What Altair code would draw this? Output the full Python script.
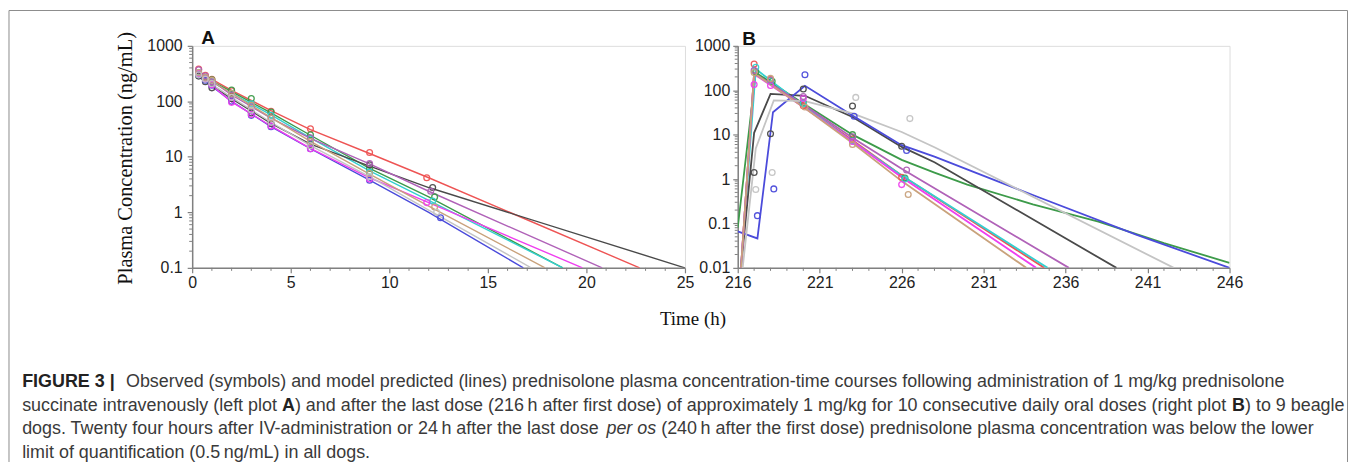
import altair as alt
import pandas as pd

# ---------------- data ----------------
DOGS = ["red", "green", "cyan", "black", "blue", "magenta", "purple", "tan", "lgray"]
COLORS = ["#ee5454", "#3d9b4a", "#34d0d0", "#4a4a4a", "#4b4bdb", "#ef3fef",
          "#b062b8", "#c9a27c", "#c4c4c4"]

# Panel A (IV) observations
A_T_OBS = [0.33, 0.67, 1, 2, 3, 4, 6, 9]
A_T_LAST = {"red": 11.9, "green": 12.3, "cyan": 12.2, "black": 12.2, "blue": 12.6,
            "magenta": 11.9, "purple": 12.1, "tan": 12.3, "lgray": 12.4}
A_OBS = {
    "red":     [380, 295, 250, 155, 88, 66, 32, 12, 4.2],
    "green":   [300, 265, 245, 160, 112, 64, 25, 6.2, 1.9],
    "cyan":    [330, 260, 225, 140, 90, 56, 21, 5.3, 1.6],
    "black":   [285, 225, 175, 112, 62, 40, 16.5, 7.2, 2.8],
    "blue":    [300, 240, 195, 100, 56, 35, 14, 3.8, 0.8],
    "magenta": [320, 255, 200, 96, 58, 36, 14, 4.0, 1.5],
    "purple":  [370, 285, 225, 130, 80, 50, 22, 7.6, 2.4],
    "tan":     [330, 270, 240, 140, 85, 50, 19, 5.0, 1.25],
    "lgray":   [300, 250, 210, 118, 70, 42, 16, 4.4, 1.0],
}
# Panel A model predictions
A_T_PRED = [0.33, 2, 4, 6, 9, 12]
A_PRED = {
    "red":     [340, 158, 68, 31, 11.5, 4.2],
    "green":   [310, 150, 62, 24.5, 6.2, 1.9],
    "cyan":    [305, 140, 57, 22, 5.6, 1.65],
    "black":   [275, 112, 40, 17, 6.8, 2.8],
    "blue":    [285, 100, 35, 14, 3.8, 1.0],
    "magenta": [305, 98, 36, 14.2, 4.2, 1.5],
    "purple":  [345, 130, 50, 21.5, 7.5, 2.4],
    "tan":     [315, 140, 51, 19, 4.9, 1.3],
    "lgray":   [290, 118, 42, 16, 4.4, 1.1],
}
A_END_T = {"red": 22.7, "green": 18.8, "cyan": 18.8, "black": 25.0, "blue": 16.8,
           "magenta": 19.8, "purple": 20.8, "tan": 17.9, "lgray": 17.2}
A_END_V = 0.1

# Panel B (oral, last dose) observations
B_OBS_T = {
    "red":     [217.0, 218.0, 220.0, 223.0, 226.0],
    "green":   [217.1, 218.1, 220.0, 223.0, 226.2],
    "cyan":    [217.1, 218.0, 220.0, 223.0, 226.2],
    "black":   [217.0, 218.0, 220.0, 223.0, 226.0],
    "blue":    [217.2, 218.2, 220.1, 223.1, 226.3],
    "magenta": [217.0, 218.0, 220.0, 223.0, 226.0],
    "purple":  [217.0, 218.0, 220.0, 223.0, 226.3],
    "tan":     [217.0, 218.0, 220.1, 223.0, 226.4],
    "lgray":   [217.1, 218.1, 223.2, 226.5],
}
B_OBS_V = {
    "red":     [390, 175, 45, 8, 1.1],
    "green":   [260, 160, 52, 10, 1.05],
    "cyan":    [330, 165, 50, 7.2, 1.0],
    "black":   [1.4, 10.5, 107, 44, 5.5],
    "blue":    [0.15, 0.6, 224, 26, 4.4],
    "magenta": [135, 128, 65, 7, 0.75],
    "purple":  [280, 170, 72, 9, 1.6],
    "tan":     [250, 185, 42, 6, 0.45],
    "lgray":   [0.58, 1.4, 69, 23],
}
# Panel B model predictions
B_PRED_T = {
    "red":     [216.2, 217.0, 220.0, 223.0, 226.0, 234.7],
    "green":   [216.0, 217.1, 220.0, 223.0, 226.0, 228.0, 230.0, 234.0, 238.0, 242.0, 246.0],
    "cyan":    [216.2, 217.1, 220.0, 223.0, 226.0, 234.9],
    "black":   [216.2, 217.0, 218.0, 220.1, 223.0, 226.0, 228.0, 239.1],
    "blue":    [216.0, 217.2, 218.15, 220.1, 223.0, 226.0, 228.0, 234.2, 240.3, 246.0],
    "magenta": [216.2, 217.0, 220.0, 223.0, 226.0, 234.2],
    "purple":  [216.2, 217.0, 220.0, 223.0, 226.0, 236.2],
    "tan":     [216.2, 217.0, 220.0, 223.0, 226.0, 233.6],
    "lgray":   [216.3, 217.1, 218.2, 220.1, 223.0, 226.0, 228.0, 242.6],
}
B_PRED_V = {
    "red":     [0.01, 250, 45, 7.5, 1.2, 0.01],
    "green":   [0.08, 250, 50, 10, 2.7, 1.4, 0.75, 0.27, 0.11, 0.036, 0.013],
    "cyan":    [0.01, 300, 45, 7.0, 1.2, 0.01],
    "black":   [0.01, 11, 83, 75, 25, 5.3, 2.4, 0.01],
    "blue":    [0.066, 0.046, 32, 126, 27, 5.8, 3.2, 0.41, 0.056, 0.01],
    "magenta": [0.01, 230, 42, 7.0, 1.1, 0.01],
    "purple":  [0.01, 240, 48, 8.5, 1.7, 0.01],
    "tan":     [0.01, 240, 42, 6.5, 0.9, 0.01],
    "lgray":   [0.01, 4.9, 59, 57, 30, 11.5, 5.2, 0.01],
}

A_XTICKS = [0, 5, 10, 15, 20, 25]
B_XTICKS = [216, 221, 226, 231, 236, 241, 246]
A_YTICKS = [0.1, 1, 10, 100, 1000]
B_YTICKS = [0.01, 0.1, 1, 10, 100, 1000]

# ---------------- tables ----------------
a_obs = pd.DataFrame([
    {"dog": d, "t": t, "c": v}
    for d in DOGS
    for t, v in zip(A_T_OBS + [A_T_LAST[d]], A_OBS[d])
])
a_pred = pd.DataFrame([
    {"dog": d, "t": t, "c": v}
    for d in DOGS
    for t, v in zip(A_T_PRED + [A_END_T[d]], A_PRED[d] + [A_END_V])
])
b_obs = pd.DataFrame([
    {"dog": d, "t": t, "c": v}
    for d in DOGS for t, v in zip(B_OBS_T[d], B_OBS_V[d])
])
b_pred = pd.DataFrame([
    {"dog": d, "t": t, "c": v}
    for d in DOGS for t, v in zip(B_PRED_T[d], B_PRED_V[d])
])

def minor_log(lo_exp, hi_exp):
    return [m * 10 ** e for e in range(lo_exp, hi_exp) for m in range(2, 10)]

a_xminor = pd.DataFrame({"t": [t for t in range(0, 26) if t % 5 != 0]})
b_xminor = pd.DataFrame({"t": [t for t in range(216, 247) if (t - 216) % 5 != 0]})
a_yminor = pd.DataFrame({"v": minor_log(-1, 3)})
b_yminor = pd.DataFrame({"v": minor_log(-2, 3)})
ONE = pd.DataFrame({"k": [0]})

# ---------------- style ----------------
W, H = 495, 223
SANS = "Liberation Sans"
SERIF = "Liberation Serif"
AX = "#808080"
color = alt.Color("dog:N", scale=alt.Scale(domain=DOGS, range=COLORS), legend=None)

def xaxis(vals):
    return alt.Axis(values=vals, title=None, grid=False, domainColor=AX, domainWidth=1.5,
                    tickColor=AX, tickWidth=1.2, tickSize=5, labelFont=SANS,
                    labelFontSize=16, labelColor="#222", labelPadding=2,
                    labelFlush=False, labelOverlap=False)

def yaxis(vals, pad):
    return alt.Axis(values=vals, title=None, grid=False, domainColor=AX, domainWidth=1.5,
                    tickColor=AX, tickWidth=1.2, tickSize=5, labelFont=SANS,
                    labelFontSize=16, labelColor="#222", labelPadding=pad,
                    format="~g", labelOverlap=False)

xA = alt.Scale(domain=[0, 25], nice=False, zero=False)
yA = alt.Scale(type="log", domain=[0.1, 1000], nice=False)
xB = alt.Scale(domain=[216, 246], nice=False, zero=False)
yB = alt.Scale(type="log", domain=[0.01, 1000], nice=False)
axA_x, axA_y = xaxis(A_XTICKS), yaxis(A_YTICKS, 5)
axB_x, axB_y = xaxis(B_XTICKS), yaxis(B_YTICKS, 3)


def txt(s, x, y, size=18, weight="normal", style="normal", font=SANS,
        col="#3a3a3a", align="left", baseline="alphabetic", angle=0):
    return alt.Chart(ONE).mark_text(
        text=s, font=font, fontSize=size, fontWeight=weight, fontStyle=style,
        color=col, align=align, baseline=baseline, angle=angle
    ).encode(x=alt.value(x), y=alt.value(y))


def panel(obs, pred, xs, ys, axx, axy, xminor, yminor, lw):
    lines = alt.Chart(pred).mark_line(strokeWidth=lw, clip=True).encode(
        x=alt.X("t:Q", scale=xs, axis=axx),
        y=alt.Y("c:Q", scale=ys, axis=axy),
        color=color,
    )
    pts = alt.Chart(obs).mark_point(shape="circle", filled=False, size=34,
                                    strokeWidth=1.3, opacity=0.95).encode(
        x=alt.X("t:Q", scale=xs, axis=axx),
        y=alt.Y("c:Q", scale=ys, axis=axy),
        color=color,
    )
    xm = alt.Chart(xminor).mark_rule(color=AX, strokeWidth=1).encode(
        x=alt.X("t:Q", scale=xs, axis=axx), y=alt.value(H), y2=alt.value(H + 3))
    ym = alt.Chart(yminor).mark_rule(color=AX, strokeWidth=1).encode(
        y=alt.Y("v:Q", scale=ys, axis=axy), x=alt.value(0), x2=alt.value(-3))
    return [xm, ym, lines, pts]


# frame (around the whole figure) and caption, positioned relative to panel A
FL, FT, FR, FB = -184, -35.5, 1160.5, 418
frame = [
    alt.Chart(ONE).mark_rule(color="#8c8c8c", strokeWidth=1).encode(
        x=alt.value(FL), y=alt.value(FT), y2=alt.value(FB)),
    alt.Chart(ONE).mark_rule(color="#8c8c8c", strokeWidth=1).encode(
        x=alt.value(FL), x2=alt.value(FR), y=alt.value(FT)),
    alt.Chart(ONE).mark_rule(color="#8c8c8c", strokeWidth=1).encode(
        x=alt.value(FR), y=alt.value(FT), y2=alt.value(FB)),
]

CX = -170.8
L1, L2, L3, L4 = 343, 366.5, 390, 413.5
caption = [
    txt("FIGURE 3 |", CX, L1, weight="bold", col="#222"),
    txt("Observed (symbols) and model predicted (lines) prednisolone plasma "
        "concentration-time courses following administration of 1 mg/kg prednisolone",
        -66.5, L1),
    txt("succinate intravenously (left plot", CX, L2),
    txt("A", 90.2, L2, weight="bold", col="#222"),
    txt(") and after the last dose (216\u2009h after first dose) of approximately 1 mg/kg "
        "for 10 consecutive daily oral doses (right plot", 103.2, L2),
    txt("B", 1044.5, L2, weight="bold", col="#222"),
    txt(") to 9 beagle", 1057.5, L2),
    txt("dogs. Twenty four hours after IV-administration or 24\u2009h after the last dose",
        CX, L3),
    txt("per os", 416.1, L3, style="italic"),
    txt("(240\u2009h after the first dose) prednisolone plasma concentration was below the lower",
        471.1, L3),
    txt("limit of quantification (0.5\u2009ng/mL) in all dogs.", CX, L4),
]

titles = [
    txt("Plasma Concentration (ng/mL)", -66.5, 113, size=20.5, font=SERIF, col="#111",
        align="center", baseline="middle", angle=270),
    txt("Time (h)", 503, 274, size=19, font=SERIF, col="#111",
        align="center", baseline="middle"),
    txt("A", 9.2, -2.3, size=19, weight="bold", col="#111"),
]

chartA = alt.layer(
    *panel(a_obs, a_pred, xA, yA, axA_x, axA_y, a_xminor, a_yminor, 1.4),
    *frame, *caption, *titles
).properties(width=W, height=H)

chartB = alt.layer(
    *panel(b_obs, b_pred, xB, yB, axB_x, axB_y, b_xminor, b_yminor, 1.8),
    txt("B", 4.5, -1.3, size=19, weight="bold", col="#111"),
).properties(width=W - 1, height=H)

chart = alt.hconcat(chartA, chartB, spacing=53, bounds="flush").properties(
    padding=0
).configure_view(stroke=None).configure(background="white")

chart.save("out.html", embed_options={"renderer": "svg", "actions": False})
